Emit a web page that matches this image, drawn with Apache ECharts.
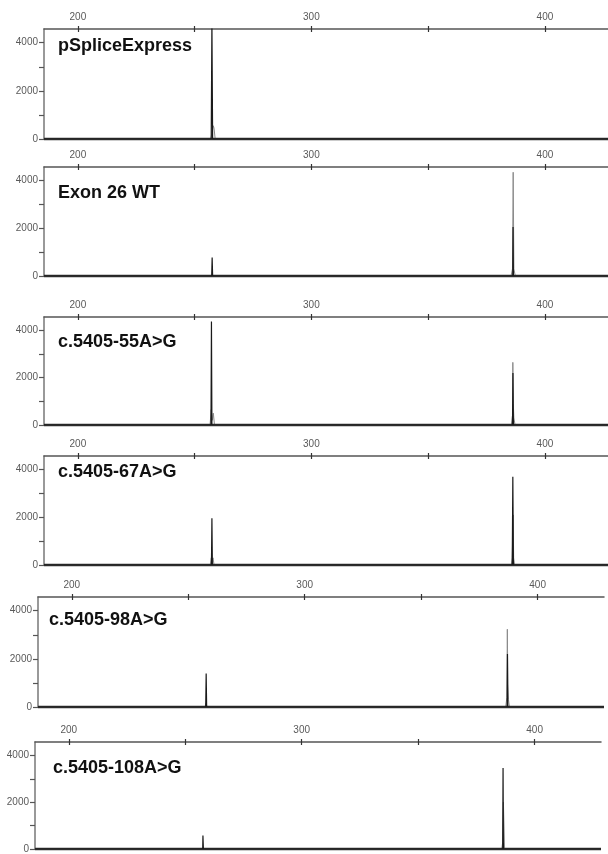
<!DOCTYPE html>
<html>
<head>
<meta charset="utf-8">
<script src="https://cdn.jsdelivr.net/npm/echarts@6/dist/echarts.min.js"></script>
<style>
html,body{margin:0;padding:0;background:#fff;}
#chart{width:608px;height:854px;}
</style>
</head>
<body>
<div id="chart"></div>
<script>
// ---- data ----
const panelTitles = ['pSpliceExpress', 'Exon 26 WT', 'c.5405-55A>G', 'c.5405-67A>G', 'c.5405-98A>G', 'c.5405-108A>G'];
const xLabelValues = [200, 300, 400];
const xTickValues = [200, 250, 300, 350, 400];
const yLabelValues = [0, 2000, 4000];
const yTickValues = [0, 1000, 2000, 3000, 4000];

// dark trace (size in bp, RFU)
const black1 = [[185.5,0],[186,80],[186.8,0],[257.1,0],[257.4,4800],[257.7,0],[349.8,0],[350,60],[350.2,0],[378.3,0],[378.5,70],[378.7,0],[383.1,0],[383.3,60],[383.5,0],[427,0]];
const black2 = [[185.5,0],[186,70],[186.8,0],[257.3,0],[257.5,780],[257.7,0],[386.2,0],[386.35,2050],[386.5,0],[427,0]];
const black3 = [[185.5,0],[186,70],[186.8,0],[257.0,0],[257.2,4380],[257.4,0],[339.8,0],[340,50],[340.2,0],[386.1,0],[386.3,2200],[386.5,0],[427,0]];
const black4 = [[185.5,0],[186,70],[186.8,0],[257.2,0],[257.4,1960],[257.6,0],[386.0,0],[386.25,3700],[386.5,0],[427,0]];
const black5 = [[185.5,0],[186,60],[186.8,0],[257.5,0],[257.7,1390],[257.9,0],[386.9,0],[387.05,2200],[387.2,0],[428.5,0]];
const black6 = [[185.5,0],[186,60],[186.8,0],[257.5,0],[257.6,580],[257.8,0],[386.3,0],[386.45,3460],[386.6,0],[428.5,0]];

// grey trace
const gray1 = [[256.9,0],[257.5,300],[258.0,550],[258.3,450],[258.8,0]];
const gray2 = [[257.2,0],[257.6,60],[258.0,0],[385.5,0],[386.1,300],[386.4,4350],[386.7,300],[387.3,0]];
const gray3 = [[256.6,0],[257.1,650],[257.6,200],[258.0,500],[258.5,0],[385.6,0],[386.1,400],[386.25,2650],[386.45,900],[386.7,300],[387.2,0]];
const gray4 = [[256.7,0],[257.1,300],[257.5,200],[257.9,300],[258.3,0],[385.6,0],[386.0,300],[386.4,2100],[386.6,300],[387.0,0]];
const gray5 = [[257.2,0],[257.6,150],[258.1,0],[386.3,0],[386.8,400],[387.0,3230],[387.2,950],[387.5,300],[387.9,0]];
const gray6 = [[257.5,0],[257.8,80],[258.2,0],[385.9,0],[386.3,300],[386.6,2000],[386.8,1200],[387.1,0]];

const blackTraces = [black1, black2, black3, black4, black5, black6];
const grayTraces = [gray1, gray2, gray3, gray4, gray5, gray6];
const xMins = [185.5, 185.5, 185.5, 185.5, 185.5, 185.5];
const xMaxs = [427, 427, 427, 427, 428.5, 428.5];
const yMax = 4570;

// ---- layout ----
const layout = [
  {left:44, top:29,  width:564, height:110, tl:58, tt:37},
  {left:44, top:167, width:564, height:109, tl:58, tt:184},
  {left:44, top:317, width:564, height:108, tl:58, tt:333},
  {left:44, top:456, width:564, height:109, tl:58, tt:463},
  {left:38, top:597, width:566, height:110, tl:49, tt:611},
  {left:35, top:742, width:566, height:109, tl:53, tt:759}
];

const labelFont = {fontFamily:'Liberation Sans, Arial, sans-serif', fontSize:10, color:'#5a5a5a', formatter: v => String(v)};
const grids = [], xAxes = [], yAxes = [], series = [], titles = [];

layout.forEach((L, i) => {
  grids.push({left:L.left, top:L.top, width:L.width, height:L.height, containLabel:false});
  titles.push({text: panelTitles[i], left: L.tl, top: L.tt, padding:0,
    textStyle:{fontFamily:'Liberation Sans, Arial, sans-serif', fontSize:18, fontWeight:'bold', color:'#111'}});
  // top axis with labels + outward ticks
  xAxes.push({type:'value', gridIndex:i, position:'top', min:xMins[i], max:xMaxs[i],
    axisLine:{show:true, onZero:false, lineStyle:{color:'#555', width:1.5}},
    axisTick:{show:true, length:3, inside:false, customValues:xTickValues, lineStyle:{color:'#333', width:1.2}},
    axisLabel:{show:true, margin:7, customValues:xLabelValues, ...labelFont},
    minorTick:{show:false}, splitLine:{show:false}});
  yAxes.push({type:'value', gridIndex:i, min:0, max:yMax,
    axisLine:{show:true, onZero:false, lineStyle:{color:'#777', width:1.5}},
    axisTick:{show:true, length:5, customValues:yTickValues, lineStyle:{color:'#555', width:1.2}},
    axisLabel:{show:true, margin:6, customValues:yLabelValues, ...labelFont},
    splitLine:{show:false}});
  series.push({type:'line', xAxisIndex:i, yAxisIndex:i, data:grayTraces[i], showSymbol:false, symbol:'none',
    lineStyle:{color:'#8a8a8a', width:1}, z:2, animation:false, clip:true});
  // baseline (zero level of the dark trace across the scanned range)
  series.push({type:'line', xAxisIndex:i, yAxisIndex:i, data:[[xMins[i],0],[xMaxs[i],0]], showSymbol:false, symbol:'none',
    lineStyle:{color:'#333', width:2.5}, z:3, animation:false, clip:false});
  series.push({type:'line', xAxisIndex:i, yAxisIndex:i, data:blackTraces[i], showSymbol:false, symbol:'none',
    lineStyle:{color:'#1a1a1a', width:1.2}, z:4, animation:false, clip:true});
});

// helper grids: inner half of the crossing top ticks
layout.forEach((L, i) => {
  const gi = layout.length + i;
  grids.push({left:L.left, top:L.top + 3, width:L.width, height:2, containLabel:false});
  xAxes.push({type:'value', gridIndex:gi, position:'top', min:xMins[i], max:xMaxs[i],
    axisLine:{show:false, onZero:false},
    axisTick:{show:true, length:3, inside:false, customValues:xTickValues, lineStyle:{color:'#333', width:1.2}},
    axisLabel:{show:false}, splitLine:{show:false}});
  yAxes.push({type:'value', gridIndex:gi, min:0, max:1, show:false});
});

const chart = echarts.init(document.getElementById('chart'), null, {renderer:'canvas'});
chart.setOption({
  backgroundColor:'#fff',
  animation:false,
  title: titles,
  grid: grids,
  xAxis: xAxes,
  yAxis: yAxes,
  series: series
});
</script>
</body>
</html>
